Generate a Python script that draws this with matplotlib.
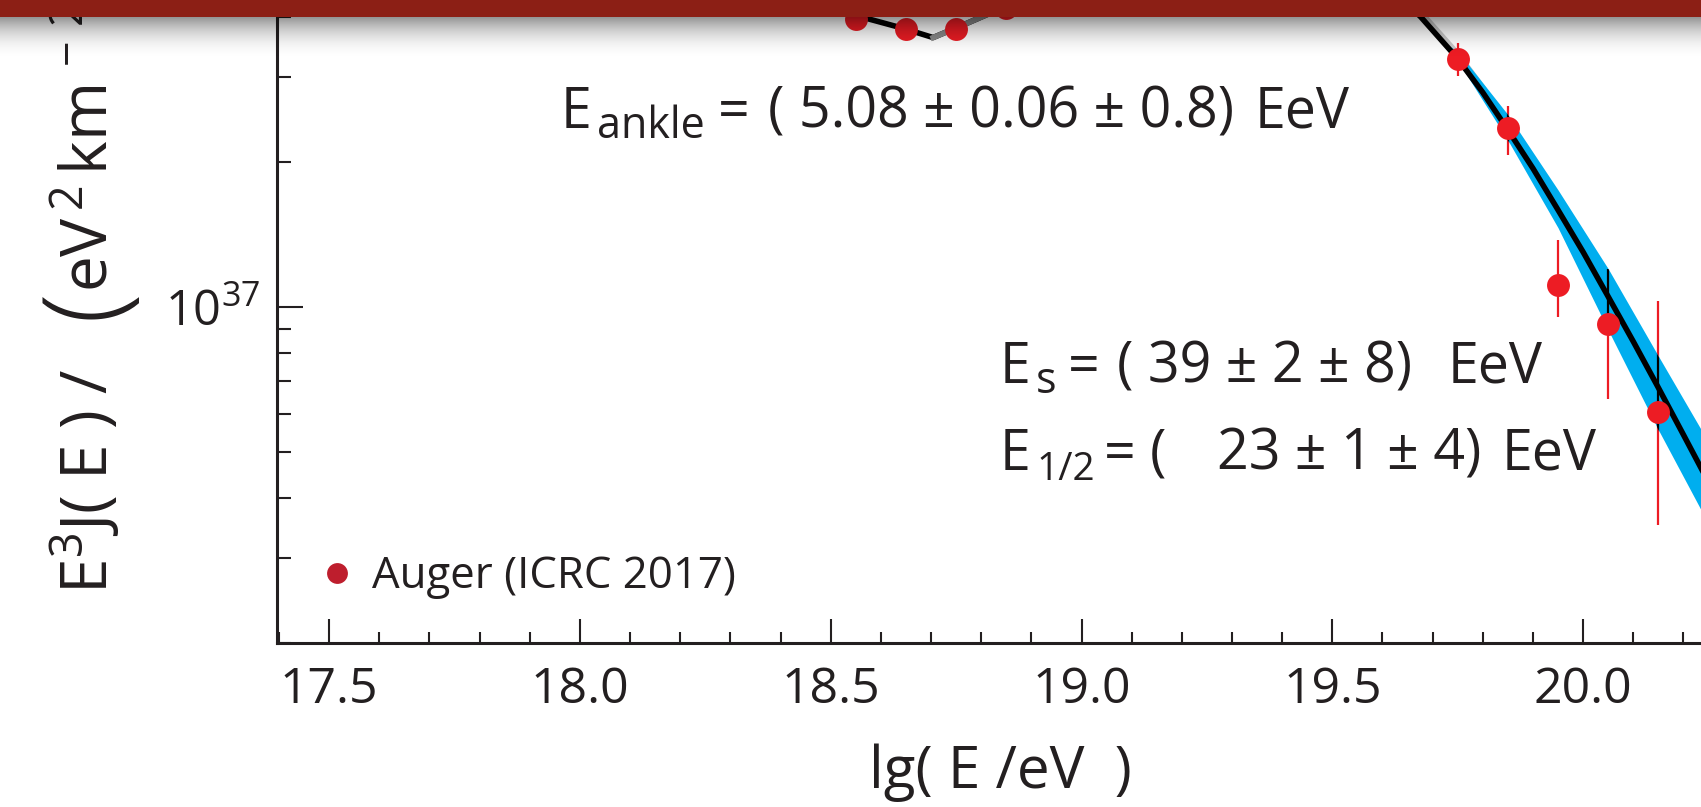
import matplotlib
matplotlib.use("Agg")
import matplotlib.pyplot as plt
from matplotlib.lines import Line2D
from matplotlib.patches import Rectangle
from matplotlib.ticker import FixedLocator, LogLocator, MultipleLocator, NullFormatter
import numpy as np

plt.rcParams['font.family'] = ['Open Sans', 'DejaVu Sans']
plt.rcParams['mathtext.fontset'] = 'custom'
plt.rcParams['mathtext.rm'] = 'Open Sans'
plt.rcParams['mathtext.it'] = 'Open Sans:italic'
plt.rcParams['mathtext.bf'] = 'Open Sans:bold'

# Auger ICRC 2017 spectrum, E^3 J(E) in eV^2 km^-2 sr^-1 yr^-1
lg_e = [18.55, 18.65, 18.75, 18.85, 19.75, 19.85, 19.95, 20.05, 20.15]
flux = [3.96e37, 3.79e37, 3.79e37, 4.19e37, 3.28e37, 2.35e37, 1.11e37, 9.20e36, 6.05e36]
flux_up = [4.00e37, 3.83e37, 3.83e37, 4.23e37, 3.54e37, 2.62e37, 1.38e37, 1.20e37, 1.03e37]
flux_dn = [3.92e37, 3.75e37, 3.75e37, 4.15e37, 3.02e37, 2.07e37, 9.53e36, 6.43e36, 3.52e36]

# fitted spectrum around the ankle and in the suppression region
fit_lo_lg = [18.50, 18.571, 18.646, 18.704, 18.76, 18.811, 18.90]
fit_lo = [4.18e37, 3.98e37, 3.79e37, 3.63e37, 3.84e37, 4.05e37, 4.42e37]
fit_hi_lg = [19.62, 19.676, 19.749, 19.80, 19.848, 19.90, 19.95, 20.00, 20.05, 20.10, 20.15, 20.20, 20.24]
fit_hi = [4.57e37, 4.01e37, 3.29e37, 2.79e37, 2.35e37, 1.94e37, 1.59e37, 1.30e37, 1.05e37,
          8.47e36, 6.79e36, 5.42e36, 4.52e36]

# second (grey) model curve
alt_lo_lg = [18.704, 18.76, 18.811, 18.90]
alt_lo = [3.63e37, 3.84e37, 4.05e37, 4.42e37]
alt_hi_lg = [19.62, 19.676, 19.749, 19.80]
alt_hi = [4.66e37, 4.09e37, 3.36e37, 2.85e37]

# uncertainty band of the fit
band_lg = [19.72, 19.75, 19.85, 19.95, 20.05, 20.15, 20.24]
band_up = [3.55e37, 3.40e37, 2.51e37, 1.75e37, 1.20e37, 7.90e36, 5.45e36]
band_dn = [3.55e37, 3.25e37, 2.22e37, 1.46e37, 8.95e36, 5.55e36, 3.70e36]

x_ticks = [17.5, 18.0, 18.5, 19.0, 19.5, 20.0]
x_labels = ['17.5', '18.0', '18.5', '19.0', '19.5', '20.0']

RED = '#ED1C24'
INK = '#231F20'
W, H = 1701, 807

fig = plt.figure(figsize=(W / 100, H / 100), dpi=100)
ax = fig.add_axes([277 / W, 1 - 643 / H, 1 - 277 / W, 643 / H])
ax.set_yscale('log')
ax.set_xlim(17.396, 20.235)
ax.set_ylim(2e36, 10 ** 37.638)

for side in ('top', 'right'):
    ax.spines[side].set_visible(False)
for side in ('left', 'bottom'):
    ax.spines[side].set_linewidth(2.2)
    ax.spines[side].set_color(INK)

ax.set_xticks(x_ticks)
ax.set_xticklabels(x_labels)
ax.xaxis.set_minor_locator(MultipleLocator(0.1))
ax.yaxis.set_major_locator(FixedLocator([1e37]))
ax.set_yticklabels([r'$\mathregular{10^{37}}$'])
ax.yaxis.set_minor_locator(LogLocator(subs=np.arange(2, 10)))
ax.yaxis.set_minor_formatter(NullFormatter())
ax.tick_params(axis='x', which='major', direction='in', length=17, width=1.5,
               color=INK, labelsize=36, labelcolor=INK, pad=16)
ax.tick_params(axis='x', which='minor', direction='in', length=8, width=1.5, color=INK)
ax.tick_params(axis='y', which='major', direction='in', length=19, width=1.5,
               color=INK, labelsize=35, labelcolor=INK, pad=12)
ax.tick_params(axis='y', which='minor', direction='in', length=10, width=1.5, color=INK)

# fit band, curves and data
band = ax.fill_between(band_lg, band_dn, band_up, color='#00AEEF', lw=0, zorder=2)
ax.plot(alt_hi_lg, alt_hi, color='#C8C8C8', lw=4.5, zorder=1.8)
ax.plot(fit_lo_lg, fit_lo, color='black', lw=4, zorder=3)
ax.plot(alt_lo_lg, alt_lo, color='#8A8A8A', lw=4, zorder=3.1)
ax.plot(fit_hi_lg, fit_hi, color='black', lw=4, zorder=3)

ax.vlines(lg_e, flux_dn, flux_up, color=RED, lw=1.6, zorder=1.5)
inside = ax.vlines(lg_e, flux_dn, flux_up, color='black', lw=1.6, zorder=2.5)
inside.set_clip_path(band.get_paths()[0], ax.transData)
ax.plot(lg_e, flux, 'o', color=RED, ms=16.5, mec='none', zorder=4)

ax.legend(handles=[Line2D([], [], ls='none', marker='o', color='#BE1E2D', ms=15, mec='none')],
          labels=['Auger (ICRC 2017)'], loc='center left',
          bbox_to_anchor=(324 / W, 1 - 577 / H), bbox_transform=fig.transFigure,
          frameon=False, fontsize=31.5, handlelength=0.6, handletextpad=0.5,
          borderpad=0, borderaxespad=0, labelcolor=INK)


def put(x, y, s, size=40, **kw):
    fig.text(x / W, 1 - y / H, s, fontsize=size, ha='left', va='baseline', color=INK, **kw)


# fit parameters
put(561, 128, 'E')
put(597, 138, 'ankle', 31)
put(718, 128, '=')
put(768, 128, '( 5.08 ± 0.06 ± 0.8)')
put(1255, 128, 'EeV')

put(1000, 383, 'E')
put(1036, 393, 's', 31)
put(1068, 383, '=')
put(1117, 383, '( 39 ± 2 ± 8)')
put(1448, 383, 'EeV')

put(1000, 470, 'E')
put(1036, 480, '1/2', 28)
put(1104, 470, '=')
put(1150, 470, '(')
put(1217, 470, '23 ± 1 ± 4)')
put(1502, 470, 'EeV')

# axis labels
fig.text(1000 / W, 1 - 773 / H, 'lg( E /eV  )', fontsize=42, ha='center', va='center', color=INK)
fig.text(107 / W, 1 - 594 / H, r'$\mathregular{E^{3}J(\;E\;)\;/}$', fontsize=46, rotation=90,
         rotation_mode='anchor', ha='left', va='baseline', color=INK)
fig.text(89 / W, 1 - 304 / H, '(', fontsize=80, fontweight='light', rotation=90,
         ha='center', va='center', color=INK)
fig.text(107 / W, 1 - 292 / H,
         r'$\mathregular{eV^{\,2}\,km^{\,-\,2}\,sr^{\,-\,1}\,yr^{\,-\,1})}$', fontsize=46,
         rotation=90, rotation_mode='anchor', ha='left', va='baseline', color=INK)

# slide header bar with its drop shadow
shade = fig.add_axes([0, 1 - 62 / H, 1, 45 / H], zorder=5)
shade.axis('off')
g = np.linspace(0, 1, 64)
rgba = np.zeros((64, 2, 4))
rgba[..., 3] = (0.42 * (1 - g) ** 2.2)[:, None]
shade.imshow(rgba, aspect='auto', extent=(0, 1, 0, 1), origin='upper')
fig.add_artist(Rectangle((0, 1 - 17 / H), 1, 17 / H, transform=fig.transFigure,
                         facecolor='#8C1F15', edgecolor='none', zorder=10))

fig.savefig('out.png', dpi=100)
